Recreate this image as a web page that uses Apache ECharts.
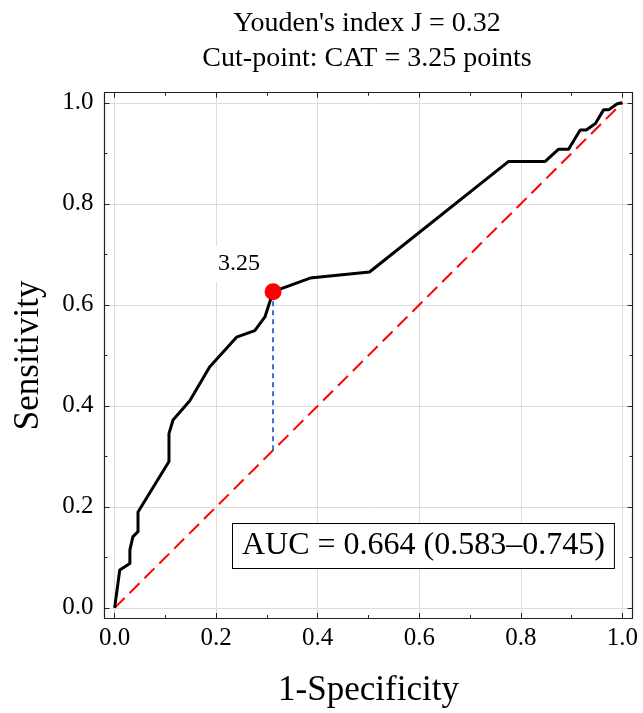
<!DOCTYPE html>
<html>
<head>
<meta charset="utf-8">
<script src="https://cdn.jsdelivr.net/npm/echarts@6/dist/echarts.min.js"></script>
<style>
  html, body { margin: 0; padding: 0; background: #fff; }
  #main { width: 643px; height: 713px; }
</style>
</head>
<body>
<div id="main"></div>
<script>
// ROC curve
var fpr = [0, 0.01, 0.03, 0.03, 0.036, 0.046, 0.046, 0.107, 0.107, 0.115, 0.148, 0.187, 0.24, 0.276, 0.296, 0.312, 0.385, 0.502, 0.776, 0.848, 0.874, 0.894, 0.917, 0.929, 0.947, 0.963, 0.973, 0.99, 1.0];
var tpr = [0, 0.075, 0.088, 0.115, 0.141, 0.151, 0.19, 0.29, 0.345, 0.372, 0.41, 0.477, 0.536, 0.549, 0.576, 0.626, 0.653, 0.665, 0.884, 0.884, 0.908, 0.908, 0.946, 0.946, 0.959, 0.986, 0.986, 0.998, 1.0];

// chance line
var refX = [0, 1];
var refY = [0, 1];

// cut-point (Youden)
var cutX = [0.312];
var cutY = [0.626];
var cutLabel = '3.25';

var majorTicks = [0, 0.2, 0.4, 0.6, 0.8, 1.0];
var minorTicks = [0.1, 0.3, 0.5, 0.7, 0.9];

var titleText = "Youden's index J = 0.32\nCut-point: CAT = 3.25 points";
var aucText = 'AUC = 0.664 (0.583\u20130.745)';

var FONT = "'Liberation Serif', 'Times New Roman', serif";
var LINE = '#222';

function zip(a, b) {
	var out = [];
	for (var i = 0; i < a.length; i++) out.push([a[i], b[i]]);
	return out;
}

// 4 axes per dimension: main + minor ticks, opposite side + minor ticks
function axes(pos, opp, nameOpts) {
	var base = {
		type: 'value', gridIndex: 0, min: -0.02, max: 1.02,
		axisLine: {show: true, onZero: false, lineStyle: {color: LINE, width: 1.2}},
		splitLine: {show: false},
		axisLabel: {show: false}
	};
	function mk(p, ticks, len, extra) {
		return Object.assign({}, base, {
			position: p,
			axisTick: {show: true, inside: true, length: len, customValues: ticks, lineStyle: {color: LINE, width: 1}}
		}, extra || {});
	}
	return [
		mk(pos, majorTicks, 5, Object.assign({
			axisLabel: {
				show: true, customValues: majorTicks, color: '#000',
				fontFamily: FONT, fontSize: 25,
				margin: pos === 'left' ? 11 : 8,
				formatter: function (v) { return v.toFixed(1); }
			},
			splitLine: {show: true, lineStyle: {color: '#dcdcdc', width: 1}}
		}, nameOpts)),
		mk(pos, minorTicks, 3, {axisLine: {show: false, onZero: false}}),
		mk(opp, majorTicks, 5),
		mk(opp, minorTicks, 3, {axisLine: {show: false, onZero: false}})
	];
}

var chart = echarts.init(document.getElementById('main'));

var option = {
	backgroundColor: '#fff',
	animation: false,
	title: {
		text: titleText,
		left: 362,
		top: 1,
		textAlign: 'center',
		textStyle: {fontFamily: FONT, fontSize: 28, fontWeight: 'normal', color: '#000', lineHeight: 35}
	},
	grid: {left: 104.5, right: 10.5, top: 92.7, bottom: 94.5},
	xAxis: axes('bottom', 'top', {
		name: '1-Specificity', nameLocation: 'middle', nameGap: 55,
		nameTextStyle: {fontFamily: FONT, fontSize: 35, color: '#000'}
	}),
	yAxis: axes('left', 'right', {
		name: 'Sensitivity', nameLocation: 'middle', nameGap: 58,
		nameTextStyle: {fontFamily: FONT, fontSize: 35, color: '#000'}
	}),
	series: [
		{
			name: 'chance',
			type: 'line',
			data: zip(refX, refY),
			symbol: 'none',
			lineStyle: {color: '#ff0000', width: 2, type: [14, 7]},
			z: 2
		},
		{
			name: 'cut',
			type: 'line',
			data: [[cutX[0], cutX[0]], [cutX[0], cutY[0]]],
			symbol: 'none',
			lineStyle: {color: '#3a6fd0', width: 2, type: [5, 4]},
			z: 2
		},
		{
			name: 'ROC',
			type: 'line',
			data: zip(fpr, tpr),
			symbol: 'none',
			lineStyle: {color: '#000', width: 3},
			z: 3
		},
		{
			name: 'cutpoint',
			type: 'scatter',
			data: zip(cutX, cutY),
			symbolSize: 17,
			itemStyle: {color: '#ff0000', opacity: 1},
			label: {
				show: true,
				formatter: cutLabel,
				position: 'inside',
				offset: [-34, -28],
				color: '#000',
				textBorderWidth: 0,
				textBorderColor: 'transparent',
				fontFamily: FONT,
				fontSize: 24,
				backgroundColor: '#fff',
				padding: [6, 4]
			},
			z: 4
		}
	],
	graphic: [
		{
			type: 'text',
			left: 232,
			top: 523,
			z: 10,
			style: {
				text: aucText,
				font: '32px ' + FONT,
				fill: '#000',
				backgroundColor: '#fff',
				borderColor: '#000',
				borderWidth: 1,
				padding: [6, 9]
			}
		}
	]
};

chart.setOption(option);
</script>
</body>
</html>
